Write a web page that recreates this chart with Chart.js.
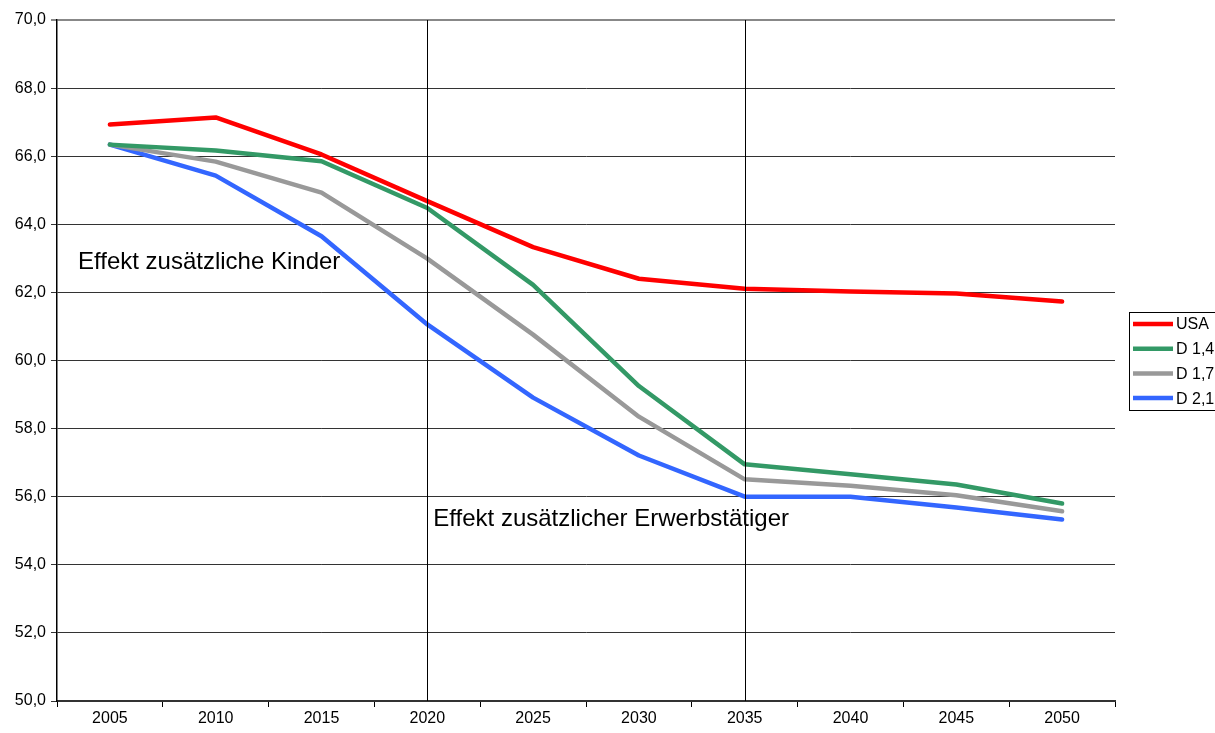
<!DOCTYPE html>
<html>
<head>
<meta charset="utf-8">
<script src="https://cdn.jsdelivr.net/npm/chart.js@4/dist/chart.umd.min.js"></script>
<style>
  html, body { margin: 0; padding: 0; background: #fff; overflow: hidden; }
  #wrap { width: 1215px; height: 733px; }
</style>
</head>
<body>
<div id="wrap"><canvas id="myChart" width="1215" height="733"></canvas></div>
<script>
const years = ['2005', '2010', '2015', '2020', '2025', '2030', '2035', '2040', '2045', '2050'];
const usa = [66.93, 67.14, 66.05, 64.68, 63.33, 62.40, 62.11, 62.03, 61.97, 61.73];
const d14 = [66.34, 66.17, 65.85, 64.48, 62.22, 59.25, 56.95, 56.66, 56.36, 55.80];
const d17 = [66.34, 65.84, 64.93, 62.99, 60.76, 58.35, 56.51, 56.32, 56.04, 55.57];
const d21 = [66.34, 65.43, 63.65, 61.06, 58.91, 57.21, 56.00, 56.00, 55.68, 55.33];
const markYears = ['2020', '2035'];

const font = "'Liberation Sans', Arial, sans-serif";

// vertical lines, annotation texts, legend
const extras = {
  id: 'extras',
  afterDatasetsDraw(chart) {
    const ctx = chart.ctx;
    const x = chart.scales.x, y = chart.scales.y, a = chart.chartArea;
    ctx.save();
    ctx.strokeStyle = '#000';
    ctx.lineWidth = 1;
    markYears.forEach(m => {
      const px = Math.round(x.getPixelForValue(years.indexOf(m))) + 0.5;
      ctx.beginPath();
      ctx.moveTo(px, a.top);
      ctx.lineTo(px, a.bottom);
      ctx.stroke();
    });

    ctx.fillStyle = '#000';
    ctx.font = '24px ' + font;
    ctx.textBaseline = 'middle';
    ctx.fillText('Effekt zusätzliche Kinder', a.left + 21, y.getPixelForValue(62.88));
    ctx.fillText('Effekt zusätzlicher Erwerbstätiger',
      x.getPixelForValue(years.indexOf('2020')) + 6, y.getPixelForValue(55.33));

    // legend (cut at the right edge like the original)
    const lx = 1129, ly = 312;
    ctx.strokeStyle = '#000';
    ctx.lineWidth = 1;
    ctx.strokeRect(lx + 0.5, ly + 0.5, 120, 98);
    ctx.font = '16px ' + font;
    chart.data.datasets.forEach((ds, i) => {
      const cy = ly + 12 + i * 24.7;
      ctx.strokeStyle = ds.borderColor;
      ctx.lineWidth = 4.5;
      ctx.beginPath();
      ctx.moveTo(lx + 4, cy);
      ctx.lineTo(lx + 44, cy);
      ctx.stroke();
      ctx.fillStyle = '#000';
      ctx.fillText(ds.label, lx + 47, cy + 1);
    });
    ctx.restore();
  }
};

const ctx = document.getElementById('myChart').getContext('2d');
const chart = new Chart(ctx, {
  type: 'line',
  data: {
    labels: years,
    datasets: [
      { label: 'USA', data: usa, borderColor: '#ff0000' },
      { label: 'D 1,4', data: d14, borderColor: '#339966' },
      { label: 'D 1,7', data: d17, borderColor: '#999999' },
      { label: 'D 2,1', data: d21, borderColor: '#3366ff' }
    ]
  },
  options: {
    responsive: false,
    animation: false,
    layout: { padding: { top: 20, right: 100, left: 0, bottom: 0 } },
    elements: {
      line: { borderWidth: 4.5, tension: 0, borderCapStyle: 'round', borderJoinStyle: 'round' },
      point: { radius: 0 }
    },
    plugins: {
      legend: { display: false },
      tooltip: { enabled: false }
    },
    scales: {
      x: {
        offset: true,
        grid: {
          offset: true,
          drawOnChartArea: false,
          drawTicks: true,
          tickLength: 6,
          color: '#000'
        },
        border: { color: '#333', width: 2 },
        ticks: {
          color: '#000',
          font: { family: font, size: 16 },
          padding: 2,
          maxRotation: 0
        },
        afterFit(s) { s.height = 32; }
      },
      y: {
        min: 50,
        max: 70,
        grid: {
          color: ctx => ctx.tick && ctx.tick.value === 70 ? '#888' : '#333',
          lineWidth: ctx => ctx.tick && ctx.tick.value === 70 ? 2 : 1,
          tickLength: 6
        },
        border: { color: '#000', width: 1.5 },
        ticks: {
          stepSize: 2,
          color: '#000',
          font: { family: font, size: 16 },
          padding: 5,
          callback: v => v.toFixed(1).replace('.', ',')
        },
        afterFit(s) { s.width = 57; }
      }
    }
  },
  plugins: [extras]
});
</script>
</body>
</html>
